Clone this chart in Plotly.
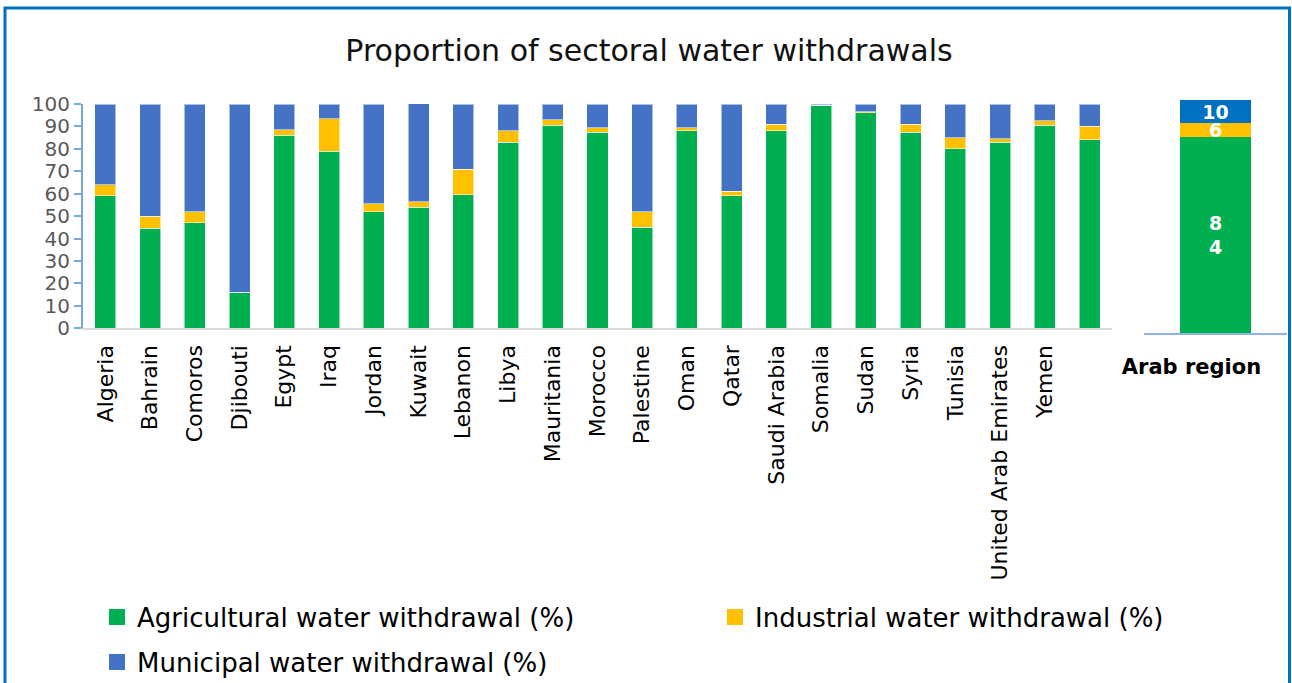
import plotly.graph_objects as go

# Sectoral shares of water withdrawal by country (%)
countries = ["Algeria", "Bahrain", "Comoros", "Djibouti", "Egypt", "Iraq", "Jordan",
             "Kuwait", "Lebanon", "Libya", "Mauritania", "Morocco", "Palestine", "Oman",
             "Qatar", "Saudi Arabia", "Somalia", "Sudan", "Syria", "Tunisia",
             "United Arab Emirates", "Yemen", ""]
agricultural = [59, 44.5, 47, 16, 86, 79, 52, 54, 59.5, 83, 90.5, 87.5, 45, 88,
                59, 88, 99.4, 96, 87.5, 80, 83, 90.5, 84]
industrial = [5, 5.5, 5, 0, 2.5, 14.5, 3.5, 2.5, 11.5, 5, 2.5, 2, 7, 1.5,
              2, 3, 0, 0.5, 3.5, 5, 1.5, 2, 6]
municipal = [36, 50, 48, 84, 11.5, 6.5, 44.5, 44, 29, 12, 7, 10.5, 48, 10.5,
             39, 9, 0.6, 3.5, 9, 15, 15.5, 7.5, 10]

# Regional aggregate
region_name = ["Arab region"]
region_agri = [84]
region_ind = [6]
region_mun = [10]

series_names = ["Agricultural water withdrawal (%)",
                "Industrial water withdrawal (%)",
                "Municipal water withdrawal (%)"]
GREEN, YELLOW, BLUE, DARK_BLUE = "#00B050", "#FFC000", "#4472C4", "#0070C0"
FONT = "DejaVu Sans"

W, H = 1292, 683
ML, MR, MT, MB = 5, 5, 100, 350
PW = W - ML - MR
PH = H - MT - MB


def px_x(x):
    return (x - ML) / PW


def px_y(y):
    return (H - MB - y) / PH


idx = list(range(len(countries)))
outline = dict(width=1, color="rgba(255,255,255,0.55)")

fig = go.Figure()
for vals, color, name in zip([agricultural, industrial, municipal],
                             [GREEN, YELLOW, BLUE], series_names):
    fig.add_trace(go.Bar(x=idx, y=vals, marker=dict(color=color, line=outline),
                         name=name, legendgroup=name, showlegend=False,
                         xaxis="x", yaxis="y"))


def stacked_label(v):
    s = f"{v:g}"
    return "<br>".join(s) if len(s) > 1 and v > 50 else s


for vals, color, name in zip([region_agri, region_ind, region_mun],
                             [GREEN, YELLOW, DARK_BLUE], series_names):
    fig.add_trace(go.Bar(x=region_name, y=vals, marker=dict(color=color, line=dict(width=0)),
                         name=name, legendgroup=name, showlegend=False,
                         text=[stacked_label(v) for v in vals], textposition="inside",
                         insidetextanchor="middle", textangle=0, constraintext="none",
                         textfont=dict(family=FONT, size=19, color="white", weight="bold"),
                         xaxis="x2", yaxis="y2"))

# Legend entries (square swatches), one legend per entry for placement
legend_ids = ["legend", "legend2", "legend3"]
for name, color, lid in zip(series_names, [GREEN, YELLOW, BLUE], legend_ids):
    fig.add_trace(go.Scatter(x=[None], y=[None], mode="markers", name=name,
                             legendgroup=name, legend=lid,
                             marker=dict(symbol="square", size=16, color=color),
                             xaxis="x", yaxis="y"))

legend_style = dict(font=dict(family=FONT, size=26, color="#000000"),
                    bgcolor="rgba(0,0,0,0)", xanchor="left", yanchor="middle",
                    itemwidth=30)
fig.update_layout(
    legend=dict(x=px_x(97), y=px_y(617), **legend_style),
    legend2=dict(x=px_x(715), y=px_y(617), **legend_style),
    legend3=dict(x=px_x(97), y=px_y(662), **legend_style),
)

fig.update_layout(
    width=W, height=H,
    margin=dict(l=ML, r=MR, t=MT, b=MB, autoexpand=False),
    paper_bgcolor="white", plot_bgcolor="white",
    barmode="stack",
    bargap=0.53,
    font=dict(family=FONT, color="#000000"),
    title=dict(text="Proportion of sectoral water withdrawals",
               font=dict(family=FONT, size=30, color="#111111"),
               x=649 / W, xanchor="center", xref="container",
               y=1 - 50 / H, yanchor="middle", yref="container"),
    xaxis=dict(domain=[px_x(83), px_x(1112)], anchor="y",
               tickmode="array", tickvals=idx, ticktext=countries,
               range=[-0.5, len(countries) - 0.5],
               tickangle=-90, tickfont=dict(family=FONT, size=22, color="#000000"),
               ticklabelstandoff=6,
               showline=True, linecolor="#D9D9D9", linewidth=2,
               ticks="", showgrid=False, zeroline=False, fixedrange=True),
    yaxis=dict(domain=[px_y(328.3), px_y(104)], anchor="x",
               range=[0, 100], dtick=10, tick0=0,
               tickfont=dict(family=FONT, size=20, color="#595959"),
               ticks="outside", ticklen=7, tickwidth=2, tickcolor="#79A9DB",
               showline=True, linecolor="#79A9DB", linewidth=2,
               showgrid=False, zeroline=False, fixedrange=True),
    xaxis2=dict(domain=[px_x(1144), px_x(1287)], anchor="y2",
                tickfont=dict(family=FONT, size=21, color="#000000", weight="bold"),
                showline=True, linecolor="#8DB4E2", linewidth=2,
                ticks="", ticklabelstandoff=14, ticklabelshift=-24,
                showgrid=False, zeroline=False, fixedrange=True),
    yaxis2=dict(domain=[0, 1], anchor="x2", range=[0, 100], visible=False,
                fixedrange=True),
)

# Arab-region bar is wider within its own panel
fig.update_traces(selector=dict(xaxis="x2"), width=0.5)

# Blue frame around the whole figure
fig.add_shape(type="rect", xref="paper", yref="paper",
              x0=px_x(5), x1=px_x(1289.5), y0=px_y(700), y1=px_y(8),
              line=dict(color=DARK_BLUE, width=3), fillcolor="rgba(0,0,0,0)",
              layer="above")

fig.write_html("out.html")
